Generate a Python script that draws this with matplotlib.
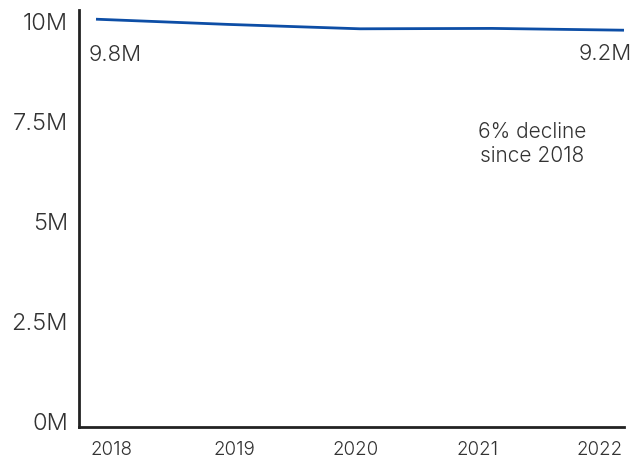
import matplotlib
matplotlib.use("Agg")
import matplotlib.pyplot as plt

years = [2018, 2019, 2020, 2021, 2022]
year_labels = ["2018", "2019", "2020", "2021", "2022"]
# values (millions)
values_m = [10.06, 9.93, 9.82, 9.83, 9.785]
ytick_vals = [0, 2.5, 5, 7.5, 10]
ytick_labels = ["0M", "2.5M", "5M", "7.5M", "10M"]
start_label = "9.8M"
end_label = "9.2M"
note = "6% decline\nsince 2018"

plt.rcParams['font.family'] = ['Inter', 'DejaVu Sans']
plt.rcParams['font.weight'] = 300
txt = "#333333"
line_col = "#0D4EA6"

fig = plt.figure(figsize=(6.34, 4.62), dpi=100)
ax = fig.add_axes([79/634, (462-426.7)/462, (624-79)/634, (426.7-10)/462])
ax.set_ylim(-0.125, 10.29)
ax.set_xlim(2018 - 33/122, 2022 + 24/122)
ax.set_xticks(years)
ax.set_xticklabels(year_labels, fontsize=13.5, color=txt, fontweight=300)
ax.set_yticks(ytick_vals)
ax.set_yticklabels(ytick_labels, fontsize=17, color=txt, fontweight=300)
ax.tick_params(axis='both', length=0)
ax.tick_params(axis='y', pad=8)
ax.tick_params(axis='x', pad=10)
for s in ['top', 'right']:
    ax.spines[s].set_visible(False)
for s in ['left', 'bottom']:
    ax.spines[s].set_linewidth(2.0)
    ax.spines[s].set_color("#222222")

lx = fig.add_axes(ax.get_position(), frameon=False)
lx.set_ylim(ax.get_ylim())
lx.set_xlim(years[0] - 17/132, years[-1])
lx.set_xticks([]); lx.set_yticks([])
lx.plot(years, values_m, color=line_col, lw=2.0, solid_capstyle='butt')

fig.text(89/634, 1 - 55/462, start_label, fontsize=16, color=txt, ha='left', va='center', fontweight=300)
fig.text(632/634, 1 - 54/462, end_label, fontsize=16, color=txt, ha='right', va='center', fontweight=300)
fig.text(532/634, 1 - 144/462, note, fontsize=15, color=txt, ha='center', va='center', linespacing=1.3, fontweight=300)

fig.savefig("out.png", dpi=100)
